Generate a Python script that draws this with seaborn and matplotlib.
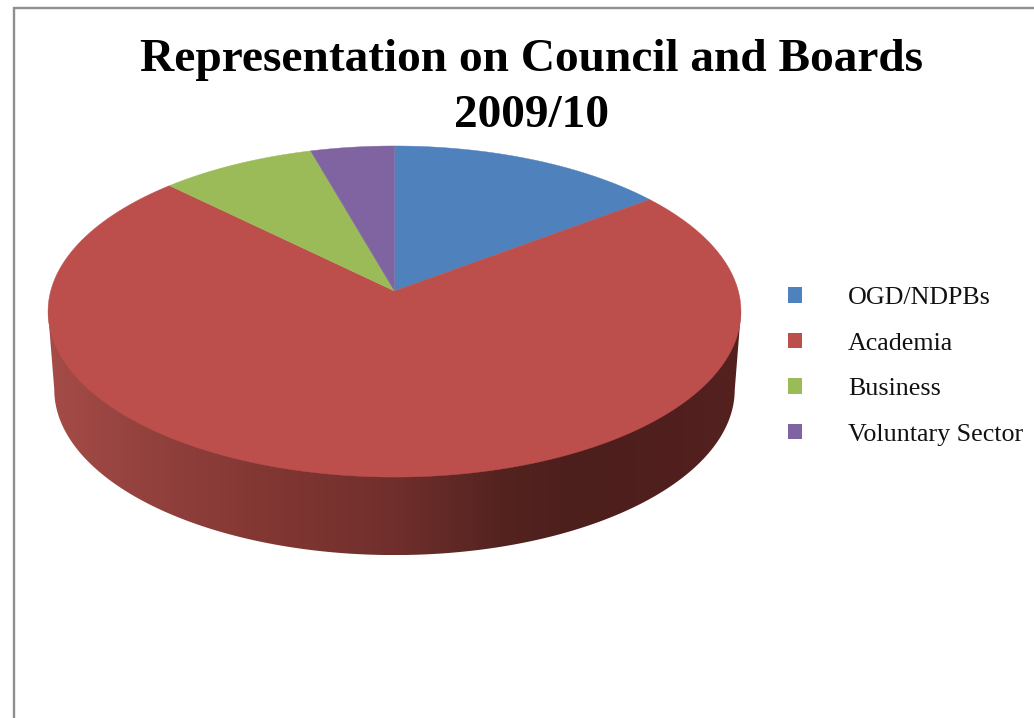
import numpy as np
import matplotlib
matplotlib.use("Agg")
import matplotlib.pyplot as plt
from matplotlib.patches import Patch, Polygon
import seaborn as sns

# Share of seats per sector, 2009/10 (percent)
categories = ["OGD/NDPBs", "Academia", "Business", "Voluntary Sector"]
shares = [14.7, 72.7, 8.2, 4.4]
slice_colors = ["#4F81BD", "#BC4F4C", "#9BBB59", "#8064A2"]
title_lines = ["Representation on Council and Boards", "2009/10"]

sns.set_theme(style="white")
plt.rcParams["font.family"] = ["Liberation Serif", "DejaVu Serif"]
palette = sns.color_palette(slice_colors)

fig = plt.figure(figsize=(10.34, 7.18), dpi=100)
ax = fig.add_axes([0, 0, 1, 1])

# Tilted disc: a unit circle under a perspective map, nearer edge larger
CX, APEX_Y = 394.5, 291.0
A, B, K = 343.8, 163.0, 0.124
DEPTH = 78.0


def project(u, v, drop=0.0, shrink=1.0):
    w = 1 + K * v
    return CX + shrink * A * u / w, APEX_Y - B * v / w + drop


# Slices run clockwise from twelve o'clock
edges = np.concatenate([[0], np.cumsum(shares)]) / np.sum(shares) * 2 * np.pi

# Silhouette of the wall: from the widest points of the top face down to the
# lower arc of the slightly smaller base
t = np.linspace(0, 2 * np.pi, 2881)
top_x, top_y = project(np.sin(t), np.cos(t))
bot_x, bot_y = project(np.sin(t), np.cos(t), drop=DEPTH, shrink=0.982)
i_right, i_left = np.argmax(bot_x), np.argmin(bot_x)
left_pt = (top_x.min(), top_y[np.argmin(top_x)])
right_pt = (top_x.max(), top_y[np.argmax(top_x)])
arc_x = np.r_[left_pt[0], bot_x[i_left:i_right:-1], right_pt[0]]
arc_y = np.r_[left_pt[1], bot_y[i_left:i_right:-1], right_pt[1]]

# Shading runs from the lit left side to the dark right side
shade_x = [45, 130, 250, 394, 500, 580, 745]
shade_r = [166, 150, 132, 112, 84, 76, 84]
shade_g = [76, 67, 56, 47, 35, 30, 33]
shade_b = [72, 63, 52, 44, 32, 28, 31]
grad_x = np.arange(left_pt[0], right_pt[0], 1.0)
gradient = np.column_stack([np.interp(grad_x, shade_x, shade_r),
                            np.interp(grad_x, shade_x, shade_g),
                            np.interp(grad_x, shade_x, shade_b)])[None, :, :] / 255

wall = ax.imshow(gradient, aspect="auto", interpolation="bilinear", zorder=1,
                 extent=(left_pt[0], right_pt[0], arc_y.max(), left_pt[1]))
wall_outline = Polygon(np.column_stack([arc_x, arc_y]), closed=True,
                       transform=ax.transData, facecolor="none", edgecolor="none")
ax.add_patch(wall_outline)
wall.set_clip_path(wall_outline)

# Top face, one polygon per slice
for start, stop, col in zip(edges[:-1], edges[1:], palette):
    a = np.linspace(start, stop, 300)
    rim_x, rim_y = project(np.sin(a), np.cos(a))
    apex_x, apex_y = project(0.0, 0.0)
    verts = np.column_stack([np.r_[apex_x, rim_x], np.r_[apex_y, rim_y]])
    ax.add_patch(Polygon(verts, closed=True, facecolor=col, edgecolor=col,
                         lw=0.3, zorder=2))

# Chart frame, open on the right and at the bottom
ax.plot([13.5, 13.5, 1034], [718, 7.5, 7.5], color="#8f8f8f", lw=1.7,
        solid_joinstyle="miter", zorder=3)

ax.text(531.5, 60, title_lines[0], fontsize=34.15, fontweight="bold",
        ha="center", va="center", color="black")
ax.text(531.5, 116, title_lines[1], fontsize=34.15, fontweight="bold",
        ha="center", va="center", color="black")

handles = [Patch(facecolor=c, edgecolor="none", label=n)
           for c, n in zip(palette, categories)]
ax.legend(handles=handles, loc="upper left", bbox_to_anchor=(788, 287),
          bbox_transform=ax.transData, frameon=False, fontsize=18.7,
          handlelength=0.535, handleheight=0.535, handletextpad=1.77,
          labelspacing=0.907, borderpad=0, borderaxespad=0,
          labelcolor="#111111")

ax.set_xlim(0, 1034)
ax.set_ylim(718, 0)
ax.axis("off")

fig.savefig("out.png", dpi=100)
